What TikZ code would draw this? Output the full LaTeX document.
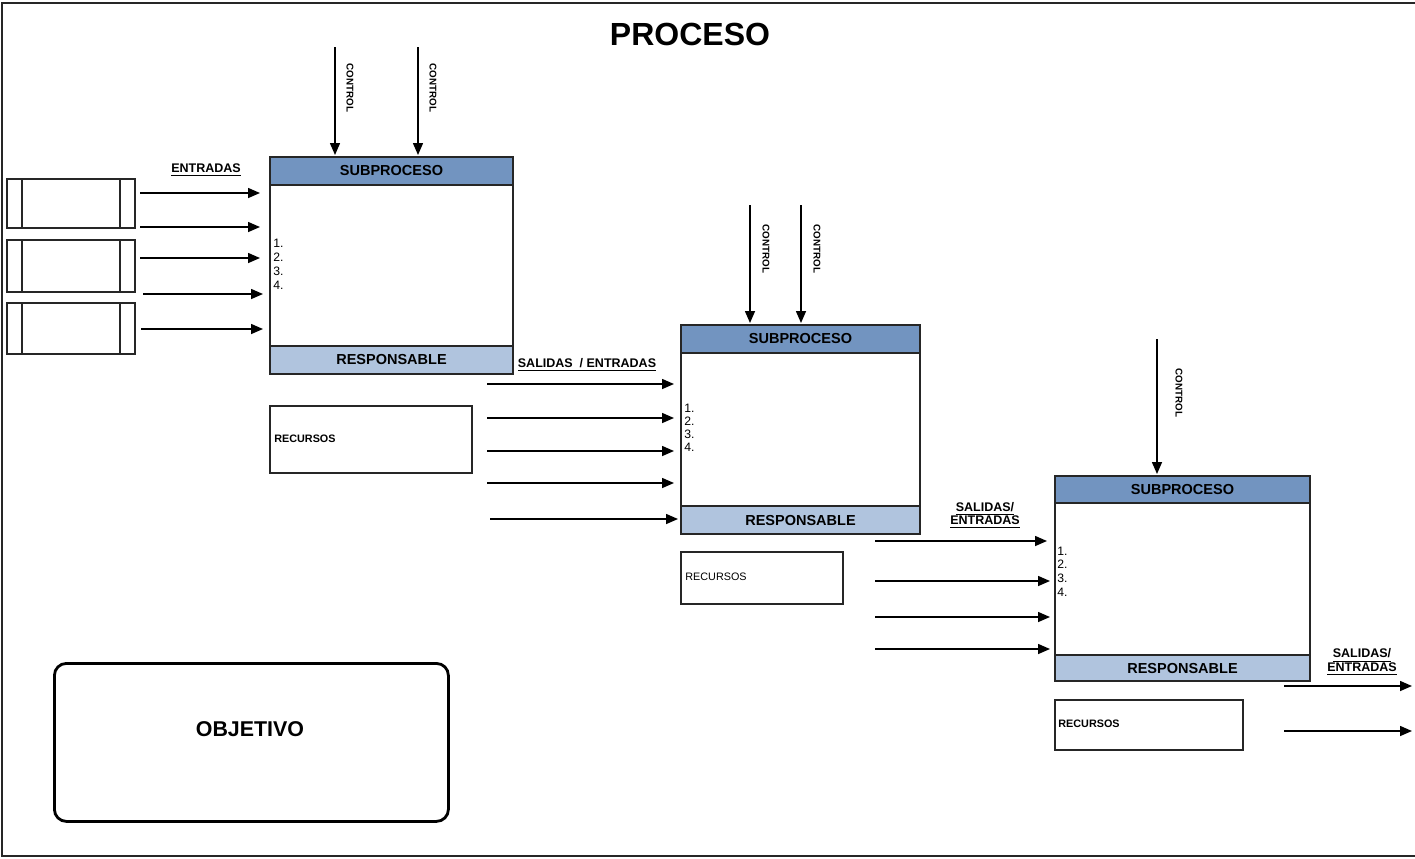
\documentclass[tikz,border=0pt]{standalone}
\usepackage{fontspec}
\setmainfont{Liberation Sans}
\usetikzlibrary{arrows.meta}
\definecolor{headblue}{RGB}{114,148,192}
\definecolor{footblue}{RGB}{176,196,222}
\definecolor{edge}{RGB}{38,38,38}

\begin{document}
\begin{tikzpicture}[x=0.5pt,y=-0.5pt,
  frameline/.style={draw=edge,line width=1pt},
  cell/.style={draw=edge,line width=0.65pt,anchor=north west,inner sep=0pt,outer sep=0pt},
  headcell/.style={cell,fill=headblue,font=\fontsize{7.25pt}{8pt}\selectfont\bfseries},
  footcell/.style={cell,fill=footblue,font=\fontsize{7.25pt}{8pt}\selectfont\bfseries},
  bodycell/.style={cell,fill=white},
  inbox/.style={cell},
  arr/.style={draw=black,line width=0.75pt,-{Triangle[length=6pt,width=5pt]}},
  ctl/.style={rotate=-90,inner sep=0pt,font=\fontsize{4.9pt}{5pt}\selectfont\bfseries},
  flowlbl/.style={inner sep=0pt,align=center,font=\fontsize{6.25pt}{6.6pt}\selectfont\bfseries},
  numlist/.style={anchor=west,inner sep=0pt,align=left},
  reslbl/.style={anchor=west,inner sep=0pt,font=\fontsize{5.4pt}{6pt}\selectfont}
]
\path[use as bounding box] (0,0) rectangle (1415,858);
\clip (0,0) rectangle (1415,858);

% outer frame (its right side runs off the page)
\draw[frameline] (1430,3) -- (2,3) -- (2,856) -- (1430,856);

% title
\node[font=\fontsize{16pt}{18pt}\selectfont\bfseries] (title) at (690,34) {PROCESO};

% ---------- input boxes ----------
\node[inbox,minimum width=64pt,minimum height=24.5pt] (in1) at (7,179) {};
\node[inbox,minimum width=64pt,minimum height=26pt] (in2) at (7,240) {};
\node[inbox,minimum width=64pt,minimum height=25.5pt] (in3) at (7,303) {};
\foreach \b in {in1,in2,in3}{
  \draw[draw=edge,line width=0.65pt] ([xshift=7.5pt]\b.north west) -- ([xshift=7.5pt]\b.south west);
  \draw[draw=edge,line width=0.65pt] ([xshift=-7.5pt]\b.north east) -- ([xshift=-7.5pt]\b.south east);
}

% ---------- subprocess 1 ----------
\node[headcell,minimum width=121.5pt,minimum height=14pt] (h1) at (270,157) {SUBPROCESO};
\node[bodycell,minimum width=121.5pt,minimum height=80.5pt] (b1) at (h1.south west) {};
\node[footcell,minimum width=121.5pt,minimum height=14pt] (f1) at (b1.south west) {RESPONSABLE};
\node[numlist,font=\fontsize{6.1pt}{7pt}\selectfont] (l1) at (273,264) {1.\\2.\\3.\\4.};
\node[cell,minimum width=101pt,minimum height=33.5pt] (r1) at (270,406) {};
\node[reslbl,font=\fontsize{5.4pt}{6pt}\selectfont\bfseries] (rt1) at (274,439) {RECURSOS};

% ---------- subprocess 2 ----------
\node[headcell,minimum width=119.5pt,minimum height=14pt] (h2) at (681,325) {SUBPROCESO};
\node[bodycell,minimum width=119.5pt,minimum height=76.5pt] (b2) at (h2.south west) {};
\node[footcell,minimum width=119.5pt,minimum height=14pt] (f2) at (b2.south west) {RESPONSABLE};
\node[numlist,font=\fontsize{6.1pt}{6.5pt}\selectfont] (l2) at (684,427.5) {1.\\2.\\3.\\4.};
\node[cell,minimum width=81pt,minimum height=26pt] (r2) at (681,552) {};
\node[reslbl] (rt2) at (685,577) {RECURSOS};

% ---------- subprocess 3 ----------
\node[headcell,minimum width=127.5pt,minimum height=13.5pt] (h3) at (1055,476) {SUBPROCESO};
\node[bodycell,minimum width=127.5pt,minimum height=76pt] (b3) at (h3.south west) {};
\node[footcell,minimum width=127.5pt,minimum height=13pt] (f3) at (b3.south west) {RESPONSABLE};
\node[numlist,font=\fontsize{6.1pt}{6.85pt}\selectfont] (l3) at (1057,571.5) {1.\\2.\\3.\\4.};
\node[cell,minimum width=94pt,minimum height=25pt] (r3) at (1055,700) {};
\node[reslbl,font=\fontsize{5.4pt}{6pt}\selectfont\bfseries] (rt3) at (1058,724) {RECURSOS};

% ---------- controls ----------
\foreach \k/\xx/\yy/\h in {1/335/47/h1, 2/418/47/h1, 3/750/205/h2, 4/801/205/h2, 5/1157/339/h3}{
  \coordinate (k\k) at (\xx,\yy);
  \draw[arr] (k\k) -- ([yshift=1pt]k\k |- \h.north);
}
\node[ctl] (c1) at (350,88) {CONTROL};
\node[ctl] (c2) at (433,88) {CONTROL};
\node[ctl] (c3) at (766,249) {CONTROL};
\node[ctl] (c4) at (817,249) {CONTROL};
\node[ctl] (c5) at (1179,393) {CONTROL};

% ---------- flow arrows ----------
\foreach \n/\xs/\xe/\yy in {
  A1/140/260/193, A2/140/260/227, A3/140/260/258, A4/143/263/294, A5/141/263/329,
  B1/487/674/384, B2/487/674/418, B3/487/674/451, B4/487/674/483, B5/490/678/519,
  C1/875/1047/541, C2/875/1050/581, C3/875/1050/617, C4/875/1050/649,
  D1/1284/1412/686, D2/1284/1412/731}{
  \coordinate (\n-s) at (\xs,\yy);
  \coordinate (\n-e) at (\xe,\yy);
  \draw[arr] (\n-s) -- (\n-e);
}

% ---------- flow labels ----------
\node[flowlbl] (e0) at (206,170) {\underline{ENTRADAS}};
\node[flowlbl] (e1) at (587,365) {\underline{SALIDAS\ \ / ENTRADAS}};
\node[flowlbl] (e2) at (985,515.5) {\underline{SALIDAS/}\\\underline{ENTRADAS}};
\node[flowlbl] (e3) at (1362,662) {\underline{SALIDAS/}\\\underline{ENTRADAS}};

% ---------- objective ----------
\node[draw=black,line width=1.4pt,rounded corners=6pt,anchor=north west,
      minimum width=197pt,minimum height=79pt,inner sep=0pt] (obj) at (53,662) {};
\node[font=\fontsize{10.7pt}{12pt}\selectfont\bfseries] (objt) at (250,729) {OBJETIVO};
\end{tikzpicture}
\end{document}
